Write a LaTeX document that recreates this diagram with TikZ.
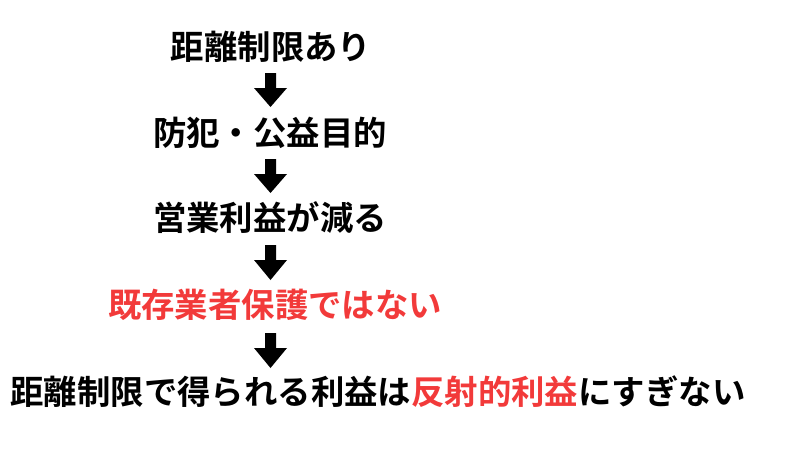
\documentclass[tikz,border=0pt]{standalone}
\usepackage{fontspec}
\newfontfamily\cjk{Noto Sans CJK JP Bold}
\definecolor{myred}{HTML}{F23A3A}
\begin{document}
\begin{tikzpicture}[x=1pt,y=-1pt,
  lbl/.style={font=\cjk\fontsize{33.4}{38}\selectfont, inner sep=0pt, anchor=center},
  barrow/.style={fill=black}]
\useasboundingbox (0,0) rectangle (800,450);
\node[lbl] (t1) at (271,47) {距離制限あり};
\node[lbl] (t2) at (270,133) {防犯・公益目的};
\node[lbl] (t3) at (270,218) {営業利益が減る};
\node[lbl,text=myred] (t4) at (275,305) {既存業者保護ではない};
\node[lbl] (t5) at (378,392) {距離制限で得られる利益は\textcolor{myred}{反射的利益}にすぎない};
\foreach \c/\a/\b in {1/73/107, 2/159/193, 3/245/280, 4/333/368}{
  \fill (265,\a) -- (276,\a) -- (276,\a+15) -- (287,\a+15) -- (270.5,\b) -- (254,\a+15) -- (265,\a+15) -- cycle;
}
\end{tikzpicture}
\end{document}
